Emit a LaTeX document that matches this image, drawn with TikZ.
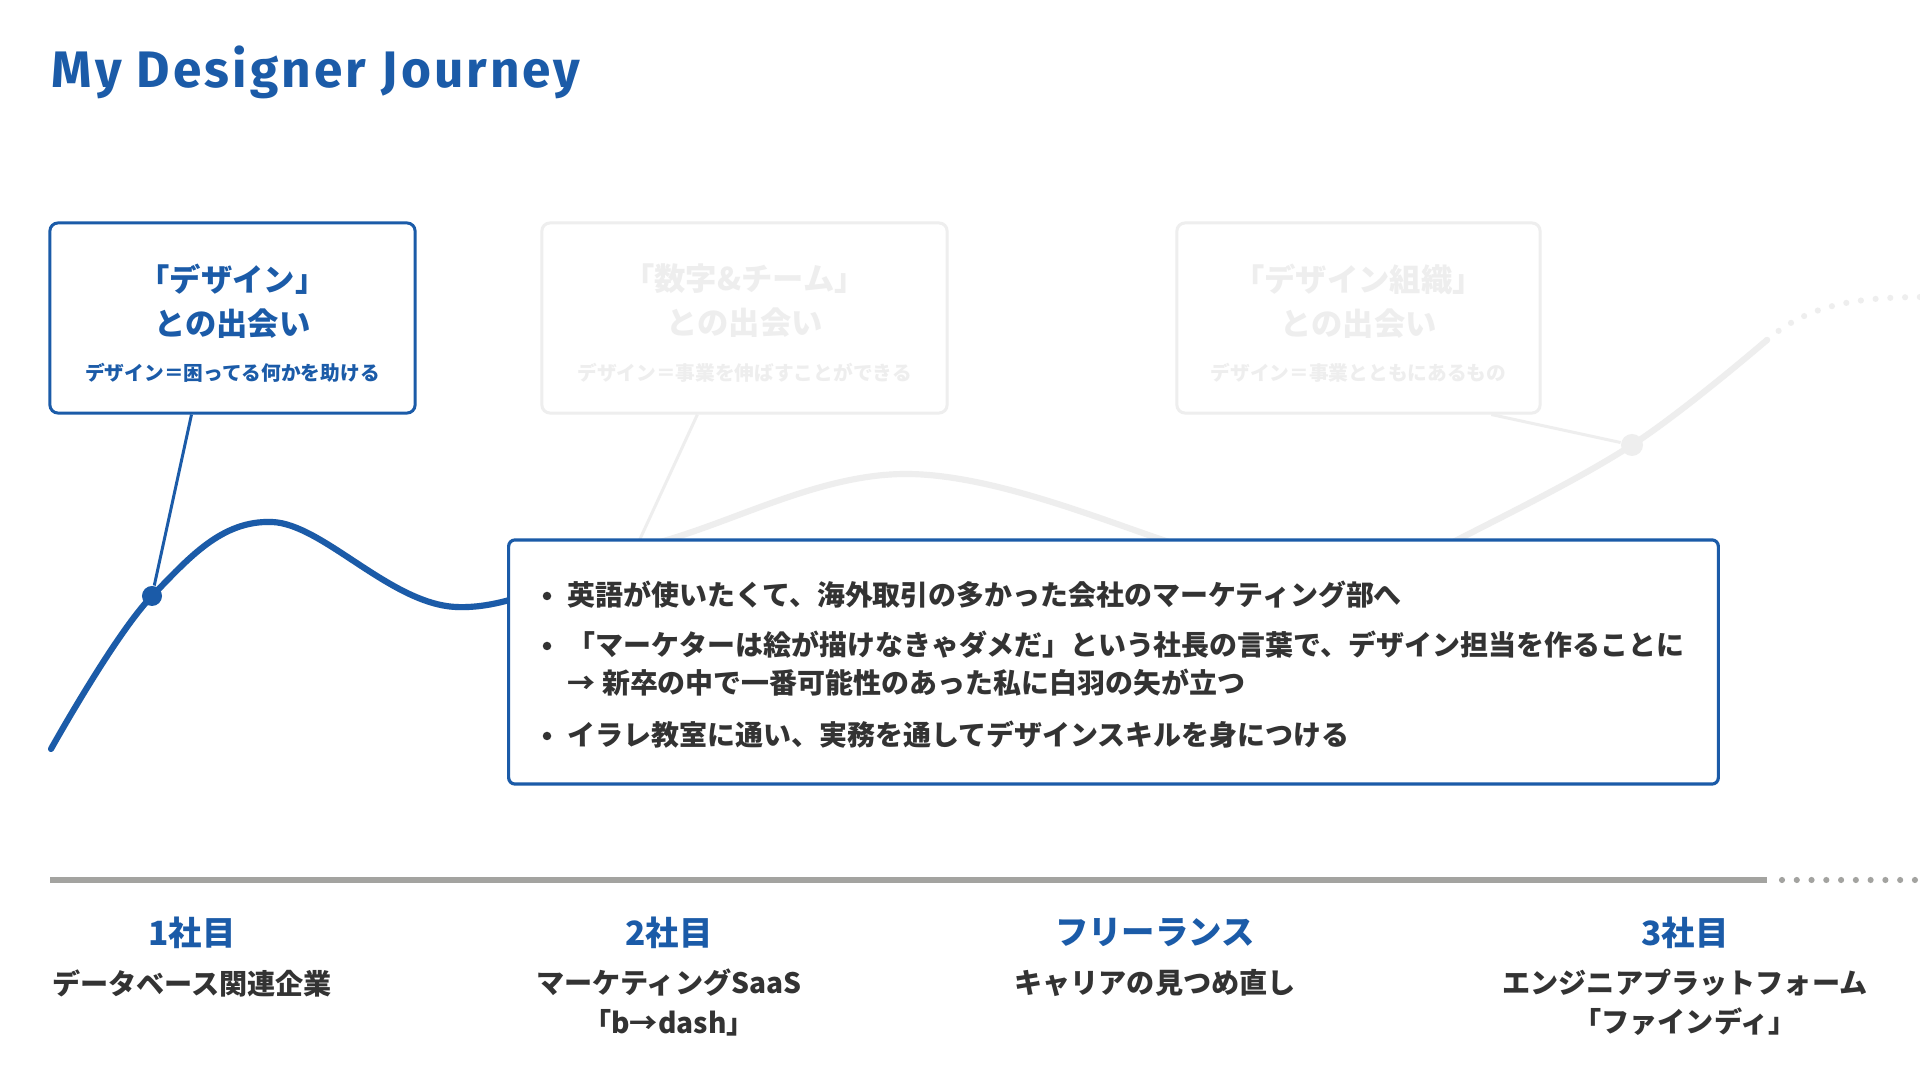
\documentclass[tikz,border=0pt]{standalone}
\usepackage{fontspec}
\setmainfont{Noto Sans CJK JP}
\newfontfamily\titlefont[LetterSpace=6]{Fira Sans}
\usetikzlibrary{positioning}
\definecolor{JourneyBlue}{HTML}{1B5BA8}
\definecolor{FadeGray}{HTML}{EEEEEE}
\definecolor{AxisGray}{HTML}{A3A3A0}
\definecolor{InkGray}{HTML}{333333}
\tikzset{
  title/.style={anchor=base west, inner sep=0pt, text=JourneyBlue, font=\titlefont\bfseries\fontsize{14.6}{17}\selectfont},
  card/.style={draw=JourneyBlue, line width=0.85pt, rounded corners=2.3pt, fill=white, minimum height=1.9cm, inner sep=0pt},
  fadecard/.style={card, draw=FadeGray},
  cardhead/.style={align=center, inner sep=0pt, text=JourneyBlue, font=\fontsize{8.9}{12.5}\selectfont\bfseries},
  cardnote/.style={inner sep=0pt, text=JourneyBlue, font=\fontsize{5.6}{7}\selectfont\bfseries},
  fadehead/.style={cardhead, text=FadeGray},
  fadenote/.style={cardnote, text=FadeGray},
  bluecurve/.style={draw=JourneyBlue, line width=1.75pt, line cap=round},
  fadecurve/.style={draw=FadeGray, line width=1.75pt, line cap=round},
  fadedots/.style={draw=FadeGray, line width=1.75pt, line cap=round, dash pattern=on 0pt off 4.2pt},
  bluedot/.style={circle, fill=JourneyBlue, minimum size=0.2cm, inner sep=0pt},
  fadedot/.style={circle, fill=FadeGray, minimum size=0.22cm, inner sep=0pt},
  bluepin/.style={draw=JourneyBlue, line width=0.85pt},
  fadepin/.style={draw=FadeGray, line width=0.85pt},
  storybox/.style={draw=JourneyBlue, line width=0.9pt, rounded corners=1.8pt, fill=white, minimum width=12.09cm, minimum height=2.44cm, inner sep=0pt},
  bullet/.style={circle, fill=InkGray, minimum size=0.085cm, inner sep=0pt},
  storyline/.style={anchor=west, inner sep=0pt, text=InkGray, font=\fontsize{7.95}{9.5}\selectfont\bfseries},
  axis/.style={draw=AxisGray, line width=1.9pt},
  axisdots/.style={draw=AxisGray, line width=1.75pt, line cap=round, dash pattern=on 0pt off 4.2pt},
  stagehead/.style={inner sep=0pt, text=JourneyBlue, font=\fontsize{9.5}{11}\selectfont\bfseries},
  stagenote/.style={align=center, inner sep=0pt, text=InkGray, font=\fontsize{8}{11.1}\selectfont\bfseries}
}

\begin{document}
\begin{tikzpicture}[x=0.01cm, y=-0.01cm]
\fill[white] (0,0) rectangle (1920,1080);
\useasboundingbox (0,0) rectangle (1920,1080);

\node[title] (heading) at (51,88) {My Designer Journey};

% journey curve
\draw[fadecurve] plot[smooth, tension=0.6] coordinates {(51,749) (152,596) (272,522) (456,607) (667,540) (906,474) (1163,540) (1310,610) (1457,540) (1632,445) (1767,340)};
\begin{scope}
\clip (0,0) rectangle (509,1080);
\draw[bluecurve] plot[smooth, tension=0.6] coordinates {(51,749) (152,596) (272,522) (456,607) (667,540) (906,474) (1163,540) (1310,610) (1457,540) (1632,445) (1767,340)};
\end{scope}
\coordinate (curveend) at (1767,340);
\coordinate (curvefade) at (1928,297);
\draw[fadedots] (curveend) .. controls (1810,303) and (1860,297) .. (curvefade);

\node[card, minimum width=3.65cm] (card1) at (232.5,318) {};
\node[fadecard, minimum width=4.05cm] (card2) at (744.5,318) {};
\node[fadecard, minimum width=3.63cm] (card3) at (1358.5,318) {};

\node[cardhead] (card1head) at (232.5,301) {「デザイン」\\との出会い};
\node[cardnote] (card1note) at (232.5,373) {デザイン＝困ってる何かを助ける};
\node[fadehead] (card2head) at (744.5,301) {「数字\&チーム」\\との出会い};
\node[fadenote] (card2note) at (744.5,373) {デザイン＝事業を伸ばすことができる};
\node[fadehead] (card3head) at (1358.5,301) {「デザイン組織」\\との出会い};
\node[fadenote] (card3note) at (1358.5,373) {デザイン＝事業とともにあるもの};

\node[bluedot] (dot1) at (152,596) {};
\node[fadedot] (dot3) at (1632,445) {};
\coordinate (pin2) at (628,565);

\draw[bluepin] (card1.247) -- (dot1);
\draw[fadepin] (card2.244) -- (pin2);
\draw[fadepin] (card3.324) -- (dot3);

% story of the first job
\node[storybox] (story) at (1113.5,662) {};
\node[bullet] (bul1) at (547,596) {};
\node[bullet] (bul2) at (547,646) {};
\node[bullet] (bul3) at (547,736) {};
\node[storyline] (line1) at (567,595) {英語が使いたくて、海外取引の多かった会社のマーケティング部へ};
\node[storyline] (line2) at (567,645) {「マーケターは絵が描けなきゃダメだ」という社長の言葉で、デザイン担当を作ることに};
\node[storyline] (line3) at (567,683) {→ 新卒の中で一番可能性のあった私に白羽の矢が立つ};
\node[storyline] (line4) at (567,735) {イラレ教室に通い、実務を通してデザインスキルを身につける};

% timeline
\coordinate (axisstart) at (50,880);
\coordinate (axisend) at (1767,880);
\coordinate (dotstart) at (1782,880);
\coordinate (axisfade) at (1925,880);
\draw[axis] (axisstart) -- (axisend);
\draw[axisdots] (dotstart) -- (axisfade);

\node[stagehead] (stage1) at (192,933) {1社目};
\node[stagenote] (note1) at (192,983) {データベース関連企業};
\node[stagehead] (stage2) at (669,933) {2社目};
\node[stagenote] (note2) at (669,1002.5) {マーケティングSaaS\\「b→dash」};
\node[stagehead] (stage3) at (1155,933) {フリーランス};
\node[stagenote] (note3) at (1155,983) {キャリアの見つめ直し};
\node[stagehead] (stage4) at (1685,933) {3社目};
\node[stagenote] (note4) at (1685,1002.5) {エンジニアプラットフォーム\\「ファインディ」};
\end{tikzpicture}
\end{document}
